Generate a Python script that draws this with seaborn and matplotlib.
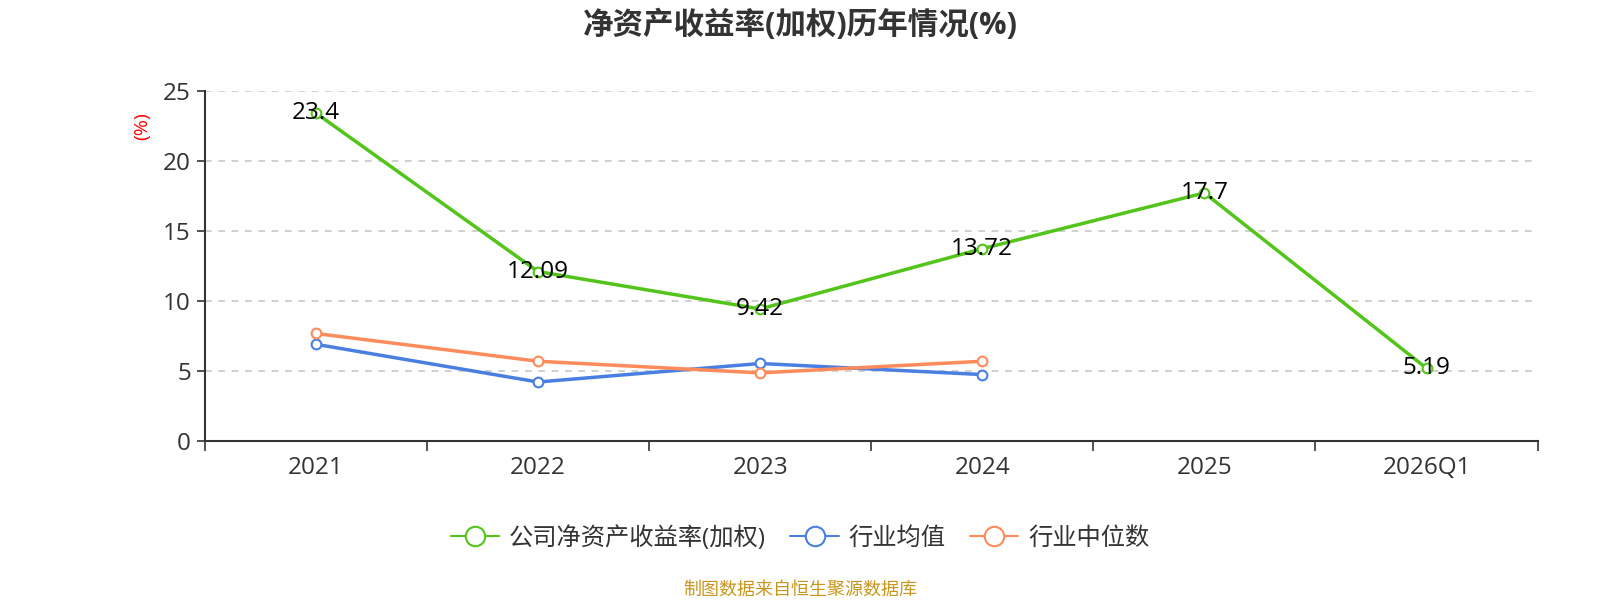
import pandas as pd
import seaborn as sns
import matplotlib.pyplot as plt
from matplotlib.lines import Line2D

# data
years = ["2021", "2022", "2023", "2024", "2025", "2026Q1"]
company = [23.4, 12.09, 9.42, 13.72, 17.7, 5.19]
industry_avg = [6.9, 4.21, 5.53, 4.74]
industry_median = [7.67, 5.69, 4.86, 5.69]

names = ["公司净资产收益率(加权)", "行业均值", "行业中位数"]
colors = ["#52c41a", "#4a7fe2", "#ff8b5a"]

rows = []
for name, vals in zip(names, [company, industry_avg, industry_median]):
    for i, v in enumerate(vals):
        rows.append({"x": i, "year": years[i], "value": v, "series": name})
df = pd.DataFrame(rows)

sns.set_style("white")
plt.rcParams['font.family'] = ['Open Sans', 'Noto Sans CJK SC', 'DejaVu Sans']

fig = plt.figure(figsize=(16, 6), dpi=100)
ax = fig.add_axes([0.128, 0.265, 0.833, 0.584])

for name, c in zip(names, colors):
    sub = df[df["series"] == name]
    sns.lineplot(data=sub, x="x", y="value", ax=ax, color=c, linewidth=2.5,
                 marker="o", markersize=7, markerfacecolor="white",
                 markeredgecolor=c, markeredgewidth=1.5, legend=False)

for _, r in df[df["series"] == names[0]].iterrows():
    ax.text(r["x"], r["value"], f"{r['value']:g}", ha="center", va="center",
            fontsize=17.5, color="black")

ax.set_xlim(-0.5, 5.5)
ax.set_ylim(0, 25)
ax.set_yticks([0, 5, 10, 15, 20, 25])
ax.set_xticks(range(len(years)))
ax.set_xticklabels(years)
ax.set_xticks([i - 0.5 for i in range(len(years) + 1)], minor=True)
ax.tick_params(axis="x", which="major", bottom=True, length=0, pad=11, labelsize=17.5, colors="#333333")
ax.tick_params(axis="x", which="minor", bottom=True, length=7, width=1.2, color="#333333", direction="out")
ax.tick_params(axis="y", which="major", left=True, length=6, width=1.2, labelsize=17.5, colors="#333333", pad=4)
ax.set_xlabel("")
ax.set_ylabel("(%)", color="red", fontsize=14)
ax.yaxis.set_label_coords(-0.04, 0.9)

ax.grid(axis="y", linestyle=(0, (4, 4)), color="#c8c8c8", linewidth=1.2)
ax.grid(axis="x", visible=False)
for s in ["top", "right"]:
    ax.spines[s].set_visible(False)
for s in ["left", "bottom"]:
    ax.spines[s].set_color("#333333")
    ax.spines[s].set_linewidth(1.5)

fig.text(0.5, 0.958, "净资产收益率(加权)历年情况(%)", ha="center", va="center",
         fontsize=22, fontweight="bold", color="#333333")

handles = [Line2D([0], [0], color=c, linewidth=1.5, marker="o", markersize=14,
                  markerfacecolor="white", markeredgecolor=c, markeredgewidth=1.5)
           for c in colors]
fig.legend(handles, names, loc="center", bbox_to_anchor=(0.5, 0.103), ncol=3,
           frameon=False, fontsize=17.5, handlelength=2.0, columnspacing=1.0,
           handletextpad=0.4, labelcolor="#333333")

fig.text(0.5, 0.018, "制图数据来自恒生聚源数据库", ha="center", va="center",
         fontsize=13, color="#c8961e")

fig.savefig("out.png", dpi=100)
